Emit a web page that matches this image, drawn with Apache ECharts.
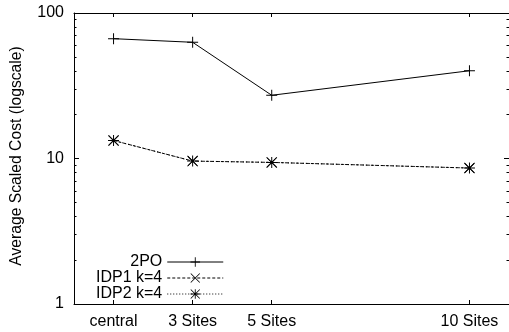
<!DOCTYPE html>
<html>
<head>
<meta charset="utf-8">
<script src="https://cdn.jsdelivr.net/npm/echarts@6/dist/echarts.min.js"></script>
<style>html,body{margin:0;padding:0;background:#fff}#c{width:509px;height:332px}</style>
</head>
<body>
<div id="c"></div>
<script>
const categories = ['central', '3 Sites', '5 Sites', '10 Sites'];
const siteCounts = [1, 3, 5, 10];
const cost2PO = [66.6, 62.9, 27.2, 40.1];
const costIDP1 = [13.3, 9.6, 9.4, 8.6];
const costIDP2 = [13.3, 9.6, 9.4, 8.6];
const yMajorTicks = [1, 10, 100];
const yMinorTicks = [2, 3, 4, 5, 6, 7, 8, 9, 20, 30, 40, 50, 60, 70, 80, 90];
const seriesNames = ['2PO', 'IDP1 k=4', 'IDP2 k=4'];
const yTitle = 'Average Scaled Cost (logscale)';

const FONT = 'Liberation Sans, Arial, Helvetica, sans-serif';
const PLUS = 'path://M4.55,0H5.45V10H4.55Z M0,4.55H10V5.45H0Z';
const CROSS = 'path://M0,0.6L0.6,0L10,9.4L9.4,10Z M0.6,10L0,9.4L9.4,0L10,0.6Z';
const STAR = 'path://M4.55,0H5.45V10H4.55Z M0,4.55H10V5.45H0Z M0,0.6L0.6,0L10,9.4L9.4,10Z M0.6,10L0,9.4L9.4,0L10,0.6Z';

const pairs = vals => siteCounts.map((x, i) => [x, vals[i]]);
const axisLineStyle = { color: '#000', width: 1 };

const chart = echarts.init(document.getElementById('c'), null, { renderer: 'canvas' });
chart.setOption({
  animation: false,
  textStyle: { fontFamily: FONT },
  grid: { left: 74, top: 13, width: 436, height: 291, containLabel: false },
  xAxis: [
    {
      type: 'value', min: 0, max: 11, position: 'bottom',
      axisLine: { show: true, onZero: false, lineStyle: axisLineStyle },
      axisTick: { show: true, inside: true, length: 4, customValues: siteCounts, lineStyle: axisLineStyle },
      axisLabel: { show: true, customValues: siteCounts, formatter: v => categories[siteCounts.indexOf(v)], fontSize: 16, color: '#000', margin: 10, fontFamily: FONT },
      splitLine: { show: false }
    },
    {
      type: 'value', min: 0, max: 11, position: 'top',
      axisLine: { show: true, onZero: false, lineStyle: axisLineStyle },
      axisTick: { show: true, inside: true, length: 4, customValues: siteCounts, lineStyle: axisLineStyle },
      axisLabel: { show: false },
      splitLine: { show: false }
    }
  ],
  yAxis: [
    {
      type: 'log', logBase: 10, min: 1, max: 100, position: 'left',
      axisLine: { show: true, onZero: false, lineStyle: axisLineStyle },
      axisTick: { show: true, inside: true, length: 5, customValues: yMajorTicks, lineStyle: axisLineStyle },
      axisLabel: { show: true, customValues: yMajorTicks, fontSize: 16, color: '#000', margin: 10, fontFamily: FONT },
      splitLine: { show: false }, minorTick: { show: false }
    },
    {
      type: 'log', logBase: 10, min: 1, max: 100, position: 'left',
      axisLine: { show: false, onZero: false },
      axisTick: { show: true, inside: true, length: 2.5, customValues: yMinorTicks, lineStyle: axisLineStyle },
      axisLabel: { show: false },
      splitLine: { show: false }
    },
    {
      type: 'log', logBase: 10, min: 1, max: 100, position: 'right',
      axisLine: { show: true, onZero: false, lineStyle: axisLineStyle },
      axisTick: { show: true, inside: true, length: 5, customValues: yMajorTicks, lineStyle: axisLineStyle },
      axisLabel: { show: false },
      splitLine: { show: false }
    },
    {
      type: 'log', logBase: 10, min: 1, max: 100, position: 'right',
      axisLine: { show: false, onZero: false },
      axisTick: { show: true, inside: true, length: 2.5, customValues: yMinorTicks, lineStyle: axisLineStyle },
      axisLabel: { show: false },
      splitLine: { show: false }
    }
  ],
  legend: {
    orient: 'vertical', align: 'right', left: 91, top: 249, padding: 5,
    itemWidth: 56, itemHeight: 12, itemGap: 0,
    lineStyle: { width: 1 },
    textStyle: { fontSize: 16, color: '#000', lineHeight: 15, fontFamily: FONT },
    data: seriesNames
  },
  graphic: [{
    type: 'text', x: 17, y: 156, rotation: Math.PI / 2,
    style: { text: yTitle, font: '15.7px ' + FONT, fill: '#000', align: 'center', verticalAlign: 'middle' }
  }],
  series: [
    {
      name: seriesNames[0], type: 'line', xAxisIndex: 0, yAxisIndex: 0, data: pairs(cost2PO),
      symbol: PLUS, symbolSize: 11, showSymbol: true,
      lineStyle: { color: '#000', width: 1, type: 'solid' },
      itemStyle: { color: '#000', borderWidth: 0 }
    },
    {
      name: seriesNames[1], type: 'line', xAxisIndex: 0, yAxisIndex: 0, data: pairs(costIDP1),
      symbol: CROSS, symbolSize: 10,
      lineStyle: { color: '#000', width: 1, type: [3, 2] },
      itemStyle: { color: '#000', borderWidth: 0 }
    },
    {
      name: seriesNames[2], type: 'line', xAxisIndex: 0, yAxisIndex: 0, data: pairs(costIDP2),
      symbol: STAR, symbolSize: 11,
      lineStyle: { color: '#000', width: 1, type: [1, 2] },
      itemStyle: { color: '#000', borderWidth: 0 }
    }
  ]
});
</script>
</body>
</html>
